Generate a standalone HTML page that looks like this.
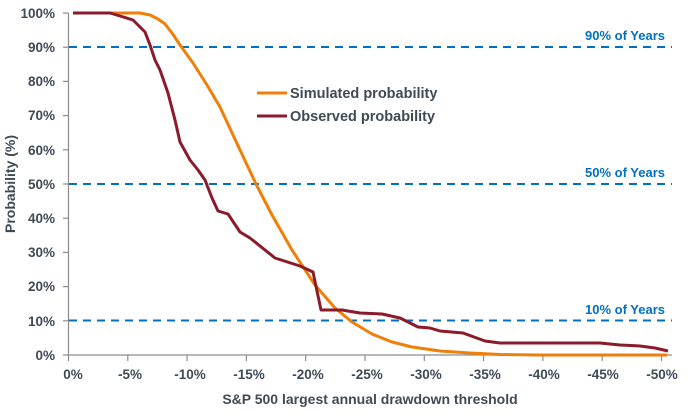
<!DOCTYPE html>
<html><head><meta charset="utf-8"><style>
html,body{margin:0;padding:0;background:#fff;}
svg{display:block;font-family:"Liberation Sans",Arial,sans-serif;}
</style></head><body>
<svg width="688" height="412" viewBox="0 0 688 412">
<g stroke="#0070c0" stroke-width="2" stroke-dasharray="8,6">
<line x1="69" y1="47" x2="672" y2="47"/>
<line x1="69" y1="184" x2="672" y2="184"/>
<line x1="69" y1="320.5" x2="672" y2="320.5"/>
</g>
<g fill="#0070c0" font-size="13" font-weight="bold" text-anchor="end">
<text x="665" y="40">90% of Years</text>
<text x="665" y="177">50% of Years</text>
<text x="665" y="314">10% of Years</text>
</g>
<g stroke="#8c8c8c" stroke-width="1.2">
<line x1="68.5" y1="13" x2="68.5" y2="355"/>
<line x1="68.5" y1="355" x2="672" y2="355"/>
<line x1="63" y1="13" x2="68.5" y2="13"/><line x1="63" y1="47.2" x2="68.5" y2="47.2"/>
<line x1="63" y1="81.4" x2="68.5" y2="81.4"/><line x1="63" y1="115.6" x2="68.5" y2="115.6"/>
<line x1="63" y1="149.8" x2="68.5" y2="149.8"/><line x1="63" y1="184" x2="68.5" y2="184"/>
<line x1="63" y1="218.2" x2="68.5" y2="218.2"/><line x1="63" y1="252.4" x2="68.5" y2="252.4"/>
<line x1="63" y1="286.6" x2="68.5" y2="286.6"/><line x1="63" y1="320.8" x2="68.5" y2="320.8"/>
<line x1="63" y1="355" x2="68.5" y2="355"/>
<line x1="68.5" y1="355" x2="68.5" y2="361"/><line x1="127.8" y1="355" x2="127.8" y2="361"/>
<line x1="187.1" y1="355" x2="187.1" y2="361"/><line x1="246.4" y1="355" x2="246.4" y2="361"/>
<line x1="305.7" y1="355" x2="305.7" y2="361"/><line x1="365" y1="355" x2="365" y2="361"/>
<line x1="424.3" y1="355" x2="424.3" y2="361"/><line x1="483.6" y1="355" x2="483.6" y2="361"/>
<line x1="542.9" y1="355" x2="542.9" y2="361"/><line x1="602.2" y1="355" x2="602.2" y2="361"/>
<line x1="661.5" y1="355" x2="661.5" y2="361"/>
</g>
<g fill="#404a55" font-size="13.5" font-weight="bold" text-anchor="end">
<text x="55" y="18">100%</text><text x="55" y="52">90%</text><text x="55" y="86">80%</text>
<text x="55" y="120">70%</text><text x="55" y="155">60%</text><text x="55" y="189">50%</text>
<text x="55" y="223">40%</text><text x="55" y="257">30%</text><text x="55" y="291">20%</text>
<text x="55" y="326">10%</text><text x="55" y="360">0%</text>
</g>
<g fill="#404a55" font-size="13.5" font-weight="bold" text-anchor="middle">
<text x="73" y="379">0%</text><text x="130" y="379">-5%</text><text x="190" y="379">-10%</text>
<text x="249" y="379">-15%</text><text x="308" y="379">-20%</text><text x="367" y="379">-25%</text>
<text x="426" y="379">-30%</text><text x="485" y="379">-35%</text><text x="544" y="379">-40%</text>
<text x="603" y="379">-45%</text><text x="662" y="379">-50%</text>
</g>
<text x="370" y="404" fill="#404a55" font-size="14" font-weight="bold" text-anchor="middle">S&amp;P 500 largest annual drawdown threshold</text>
<text transform="translate(15,184) rotate(-90)" fill="#404a55" font-size="14" font-weight="bold" text-anchor="middle">Probability (%)</text>
<polyline fill="none" stroke="#f07f09" stroke-width="3" stroke-linejoin="round" points="73,13 140,13 150,15 158,19 165,24 172,33 180,45 193,63 207,85 220,107 240,150 256,184 272,215 292,250 315,285 335,308 352,322 372,334 392,342 412,347 440,351 470,353 500,354.5 540,355 667,355"/>
<polyline fill="none" stroke="#8b1a2b" stroke-width="3" stroke-linejoin="round" points="73,13 110,13 120,16 133,20 145,32 150,45 155,60 160,70 168,93 175,120 180,142 190,160 198,170 205,180 212,198 218,211 228,214 240,232 250,238 275,258 300,266 313,272 321,310 342,310 360,313 382,314 400,318 418,327 430,328 440,331 463,333 485,341 500,343 600,343 620,345 640,346 655,348 668,351"/>
<line x1="257" y1="93" x2="287" y2="93" stroke="#f07f09" stroke-width="3"/>
<line x1="257" y1="116" x2="287" y2="116" stroke="#8b1a2b" stroke-width="3"/>
<g fill="#404a55" font-size="14.5" font-weight="bold">
<text x="290" y="98">Simulated probability</text>
<text x="290" y="121">Observed probability</text>
</g>
</svg>
</body></html>
